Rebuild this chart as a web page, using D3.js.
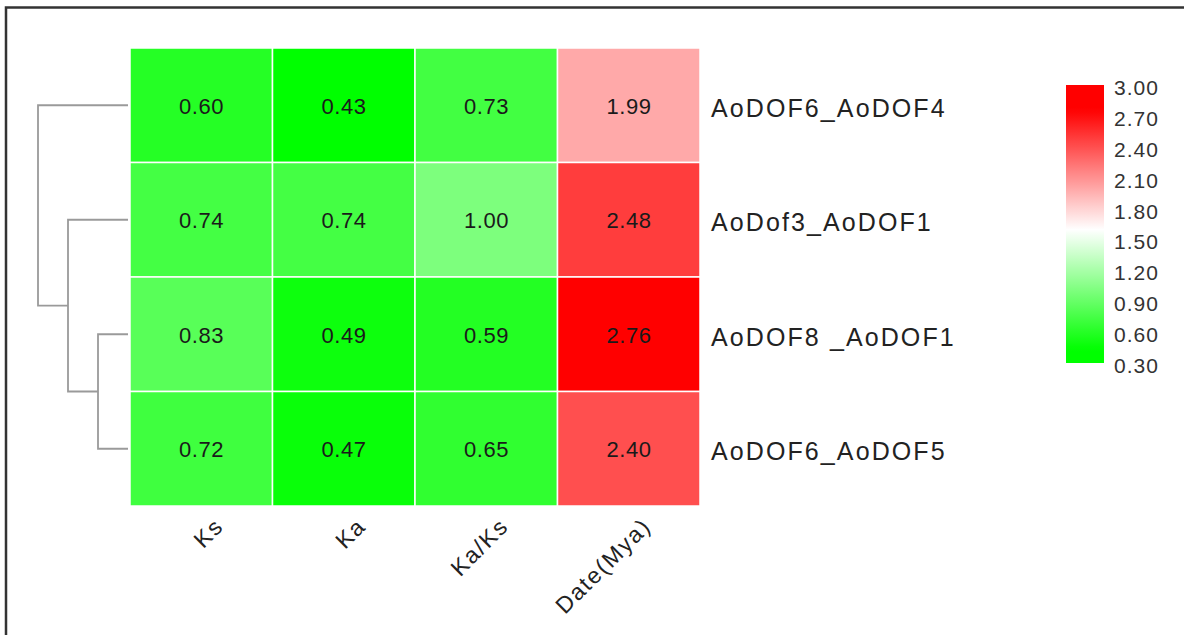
<!DOCTYPE html>
<html><head><meta charset="utf-8">
<script src="https://cdn.jsdelivr.net/npm/d3@7"></script>
<style>body{margin:0;background:#fff}svg{display:block}text{font-family:"Liberation Sans",Arial,sans-serif}</style>
</head><body>
<script>
const columns = ["Ks","Ka","Ka/Ks","Date(Mya)"];
const rows = ["AoDOF6_AoDOF4","AoDof3_AoDOF1","AoDOF8 _AoDOF1","AoDOF6_AoDOF5"];
const ks = [0.60,0.74,0.83,0.72];
const ka = [0.43,0.74,0.49,0.47];
const kaks = [0.73,1.00,0.59,0.65];
const date = [1.99,2.48,2.76,2.40];
const legendTicks = [3.00,2.70,2.40,2.10,1.80,1.50,1.20,0.90,0.60,0.30];
// dendrogram merges: [leftChild, rightChild, height]; leaves 0..3, internal nodes 4..
const merges = [[2,3,1],[1,4,2],[0,5,3]];

const W=1184,H=635;
const svg=d3.select("body").append("svg").attr("width",W).attr("height",H);
svg.append("rect").attr("x",6).attr("y",7.5).attr("width",W+20).attr("height",H+20)
  .attr("fill","none").attr("stroke","#333").attr("stroke-width",2.5);

const values=[ks,ka,kaks,date];
const cells=[];
rows.forEach((r,i)=>columns.forEach((c,j)=>cells.push({r,c,v:values[j][i]})));
const all=cells.map(d=>d.v);
const mn=d3.min(all),mx=d3.max(all);
const color=d3.scaleLinear().domain([mn,(mn+mx)/2,mx]).range(["#00ff00","#ffffff","#ff0000"]).clamp(true);

const x=d3.scaleBand().domain(columns).range([130,700]);
const y=d3.scaleBand().domain(rows).range([48,506]);

svg.append("g").selectAll("rect").data(cells).join("rect")
  .attr("x",d=>x(d.c)).attr("y",d=>y(d.r)).attr("width",x.bandwidth()).attr("height",y.bandwidth())
  .attr("fill",d=>color(d.v)).attr("stroke","#fff").attr("stroke-width",1.5);
svg.append("g").selectAll("text").data(cells).join("text")
  .attr("x",d=>x(d.c)+x.bandwidth()/2+0.3).attr("y",d=>y(d.r)+y.bandwidth()/2+1)
  .attr("text-anchor","middle").attr("dominant-baseline","central")
  .attr("font-size",22).attr("letter-spacing",0.6).attr("fill","#1a1a1a").text(d=>d.v.toFixed(2));

// row labels
svg.append("g").selectAll("text").data(rows).join("text")
  .attr("x",711).attr("y",d=>y(d)+y.bandwidth()/2+2.5).attr("dominant-baseline","central")
  .attr("font-size",25).attr("letter-spacing",2.1).attr("fill","#222").text(d=>d);

// column labels
svg.append("g").selectAll("text").data(columns).join("text")
  .attr("transform",d=>`translate(${x(d)+x.bandwidth()/2+18},${522}) rotate(-45)`)
  .attr("text-anchor","end").attr("dominant-baseline","central")
  .attr("font-size",23).attr("letter-spacing",1.8).attr("fill","#222").text(d=>d);

// dendrogram
const hx=d3.scaleLinear().domain([0,3]).range([128,38]);
const nodes=rows.map((r,i)=>({y:y(r)+y.bandwidth()/2,h:0}));
const g=svg.append("g").attr("fill","none").attr("stroke","#9a9a9a").attr("stroke-width",1.8);
merges.forEach(([a,b,h])=>{
  const A=nodes[a],B=nodes[b];
  g.append("path").attr("d",`M${hx(A.h)},${A.y}H${hx(h)}V${B.y}H${hx(B.h)}`);
  nodes.push({y:(A.y+B.y)/2,h});
});

// legend
const ly=d3.scaleLinear().domain([3.0,0.3]).range([85,363]);
const defs=svg.append("defs");
const grad=defs.append("linearGradient").attr("id","lg").attr("x1",0).attr("y1",0).attr("x2",0).attr("y2",1);
d3.range(0,1.0001,0.02).forEach(t=>{
  const v=3.0-t*2.7;
  grad.append("stop").attr("offset",t).attr("stop-color",color(v));
});
svg.append("rect").attr("x",1066).attr("y",ly(3.0)).attr("width",38).attr("height",ly(0.3)-ly(3.0)).attr("fill","url(#lg)");
svg.append("g").selectAll("text").data(legendTicks).join("text")
  .attr("x",1114).attr("y",d=>ly(d)+2.5).attr("dominant-baseline","central")
  .attr("font-size",21).attr("letter-spacing",1).attr("fill","#333").text(d=>d.toFixed(2));
</script>
</body></html>
